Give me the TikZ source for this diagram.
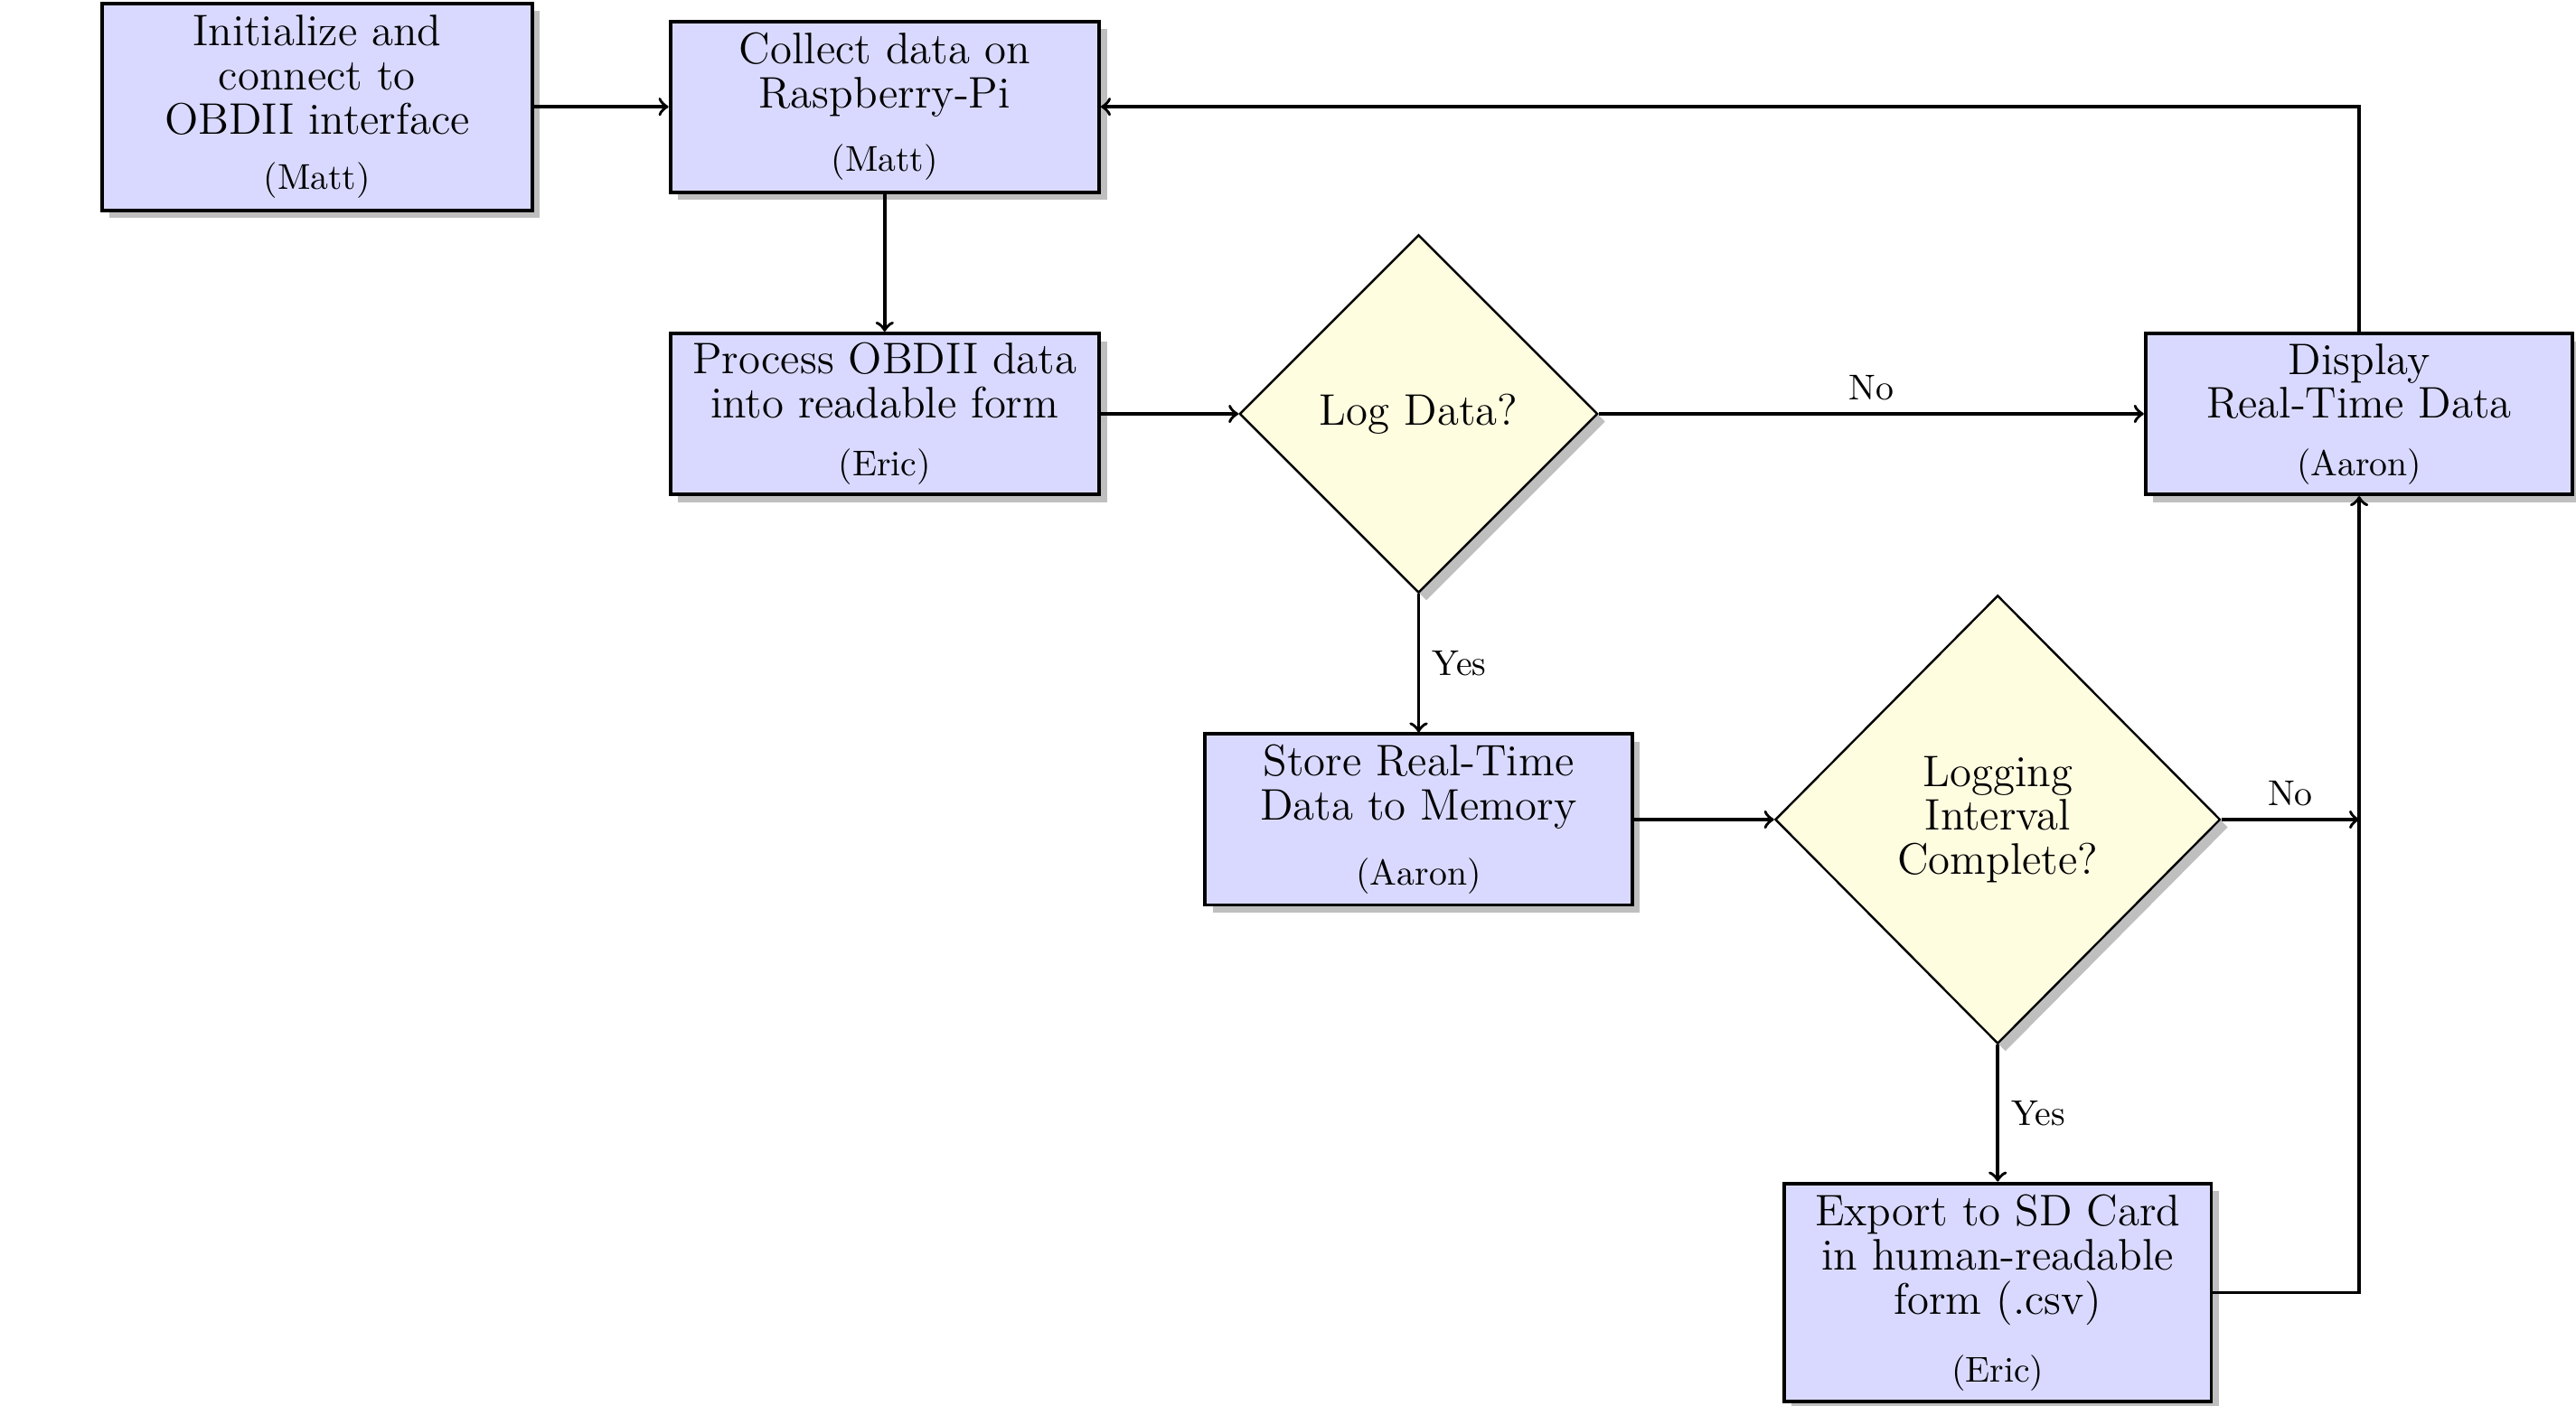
\documentclass[tikz,border=0pt]{standalone}
\usetikzlibrary{shapes.geometric,shadows}
% drawing unit used for all positions and sizes
\def\pxu{0.4575pt}
\tikzset{
  procbox/.style={rectangle, draw, line width=1pt, fill=blue!15, drop shadow,
    align=center, font=\fontsize{12.3}{12.3}\selectfont, inner sep=2pt},
  decbox/.style={diamond, draw, line width=0.6pt, fill=yellow!12, drop shadow,
    align=center, font=\fontsize{12.3}{12.3}\selectfont, inner sep=0pt},
  flow/.style={->, line width=0.9pt},
  lbl/.style={font=\normalsize}
}
\newcommand{\person}[1]{{\normalsize(#1)}}
\begin{document}
\begin{tikzpicture}[x=\pxu, y=-\pxu]
\useasboundingbox (0,0) rectangle (1568,856);

% process steps
\node[procbox, minimum width={262*\pxu}, minimum height={126*\pxu}] (init) at (193,65)
  {Initialize and\\connect to\\OBDII interface\\[3pt]\person{Matt}};
\node[procbox, minimum width={261*\pxu}, minimum height={104*\pxu}] (collect) at (538.5,65)
  {Collect data on\\Raspberry-Pi\\[5.4pt]\person{Matt}};
\node[procbox, minimum width={261*\pxu}, minimum height={98*\pxu}] (process) at (538.5,252)
  {Process OBDII data\\into readable form\\[3.8pt]\person{Eric}};
\node[procbox, minimum width={260*\pxu}, minimum height={98*\pxu}] (display) at (1436,252)
  {Display\\Real-Time Data\\[3.6pt]\person{Aaron}};
\node[procbox, minimum width={260*\pxu}, minimum height={104*\pxu}] (store) at (863.5,499)
  {Store Real-Time\\Data to Memory\\[5.8pt]\person{Aaron}};
\node[procbox, minimum width={260*\pxu}, minimum height={133*\pxu}] (export) at (1216,787)
  {Export to SD Card\\in human-readable\\form (.csv)\\[6.6pt]\person{Eric}};

% decisions
\node[decbox, minimum width={218*\pxu}, minimum height={218*\pxu}] (logq) at (863.5,252)
  {Log Data?};
\node[decbox, minimum width={271*\pxu}, minimum height={273*\pxu}] (intq) at (1216,499)
  {Logging\\Interval\\Complete?};

% connectors
\coordinate (join) at (display.south |- intq.east);
\draw[flow] (init) -- (collect);
\draw[flow] (collect) -- (process);
\draw[flow] (process) -- (logq);
\draw[flow] (logq) -- node[lbl, above] {No} (display);
\draw[flow] (logq) -- node[lbl, right] {Yes} (store);
\draw[flow] (store) -- (intq);
\draw[flow] (intq) -- node[lbl, above] {No} (join);
\draw[flow] (intq) -- node[lbl, right] {Yes} (export);
\draw[flow] (export.east) -| (display.south);
\draw[flow] (display.north) |- (collect.east);
\end{tikzpicture}
\end{document}
